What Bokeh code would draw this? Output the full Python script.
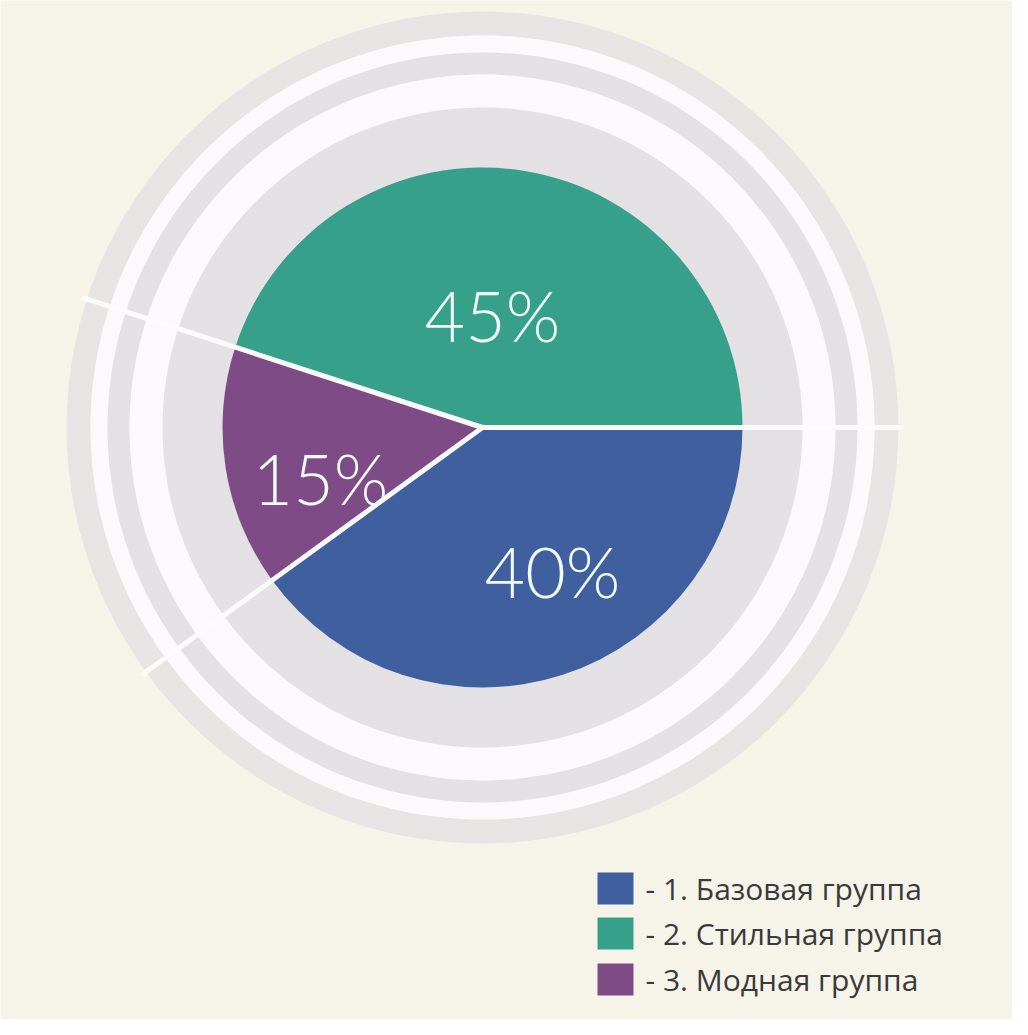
import numpy as np
from bokeh.plotting import figure
from bokeh.models import Range1d
from bokeh.core.properties import value
from bokeh.embed import file_html
from bokeh.resources import INLINE

# ---- data ----
groups = ["1. Базовая группа", "2. Стильная группа", "3. Модная группа"]
shares = [40, 45, 15]
labels = ["40%", "45%", "15%"]
colors = ["#3f5f9e", "#36a08a", "#7f4b86"]
# drawing order around the circle (anticlockwise from 3 o'clock)
pie_order = [1, 2, 0]  # Стильная, Модная, Базовая

# ---- layout constants (page pixel y -> data y = 1035 - y) ----
W, H = 1012, 1019
def Y(py):
    return 1035 - py
CX, CY = 490, Y(435)
R_PIE = 260
BG = "#f6f4e9"
GRAY = "#e3e1e4"
WHITE = "#fbf9fb"

p = figure(width=W, height=H, output_backend="svg", toolbar_location=None,
           x_range=Range1d(8, 8 + W), y_range=Range1d(8, 8 + H),
           min_border=0, background_fill_color=BG, border_fill_color=BG)
p.xaxis.visible = False
p.yaxis.visible = False
p.xgrid.visible = False
p.ygrid.visible = False
p.outline_line_color = None

# concentric rings
p.annulus(x=[CX], y=[CY], inner_radius=392, outer_radius=416, fill_color="#e7e5e3", line_color=None)
p.annulus(x=[CX], y=[CY], inner_radius=375, outer_radius=392, fill_color=WHITE, line_color=None)
p.annulus(x=[CX], y=[CY], inner_radius=353, outer_radius=375, fill_color=GRAY, line_color=None)
p.annulus(x=[CX], y=[CY], inner_radius=320, outer_radius=353, fill_color=WHITE, line_color=None)
p.circle(x=[CX], y=[CY], radius=320, fill_color=GRAY, line_color=None)

# pie wedges
vals = np.array([shares[i] for i in pie_order], dtype=float)
ends = np.cumsum(vals) / vals.sum() * 2 * np.pi
starts = np.concatenate([[0.0], ends[:-1]])
p.wedge(x=[CX] * 3, y=[CY] * 3, radius=R_PIE,
        start_angle=list(starts), end_angle=list(ends),
        fill_color=[colors[i] for i in pie_order], line_color=None)

# white separators extending to outer ring
R_SEP = 419
p.segment(x0=[CX] * 3, y0=[CY] * 3,
          x1=list(CX + R_SEP * np.cos(starts)), y1=list(CY + R_SEP * np.sin(starts)),
          line_color="#fbfbfb", line_width=5, line_cap="round")

# percentage labels (offsets relative to pie centre, layout only)
lab_dx = [70, 10, -162]
lab_dy = [-143, 113, -50]
p.text(x=[CX + d for d in lab_dx], y=[CY + d for d in lab_dy], text=labels,
       text_color="#effbf7", text_font=value("Lato Light, Lato"), text_font_size="70px",
       text_align="center", text_baseline="middle")

# legend
leg_y = [Y(896), Y(941), Y(987)]
p.rect(x=[623] * 3, y=leg_y, width=36, height=32, fill_color=colors, line_color=None)
p.text(x=[653] * 3, y=leg_y, text=["- " + g for g in groups],
       text_color="#3a3a3a", text_font=value("Open Sans"), text_font_size="30px",
       text_align="left", text_baseline="middle")

open("out.html", "w").write(file_html(p, INLINE))
